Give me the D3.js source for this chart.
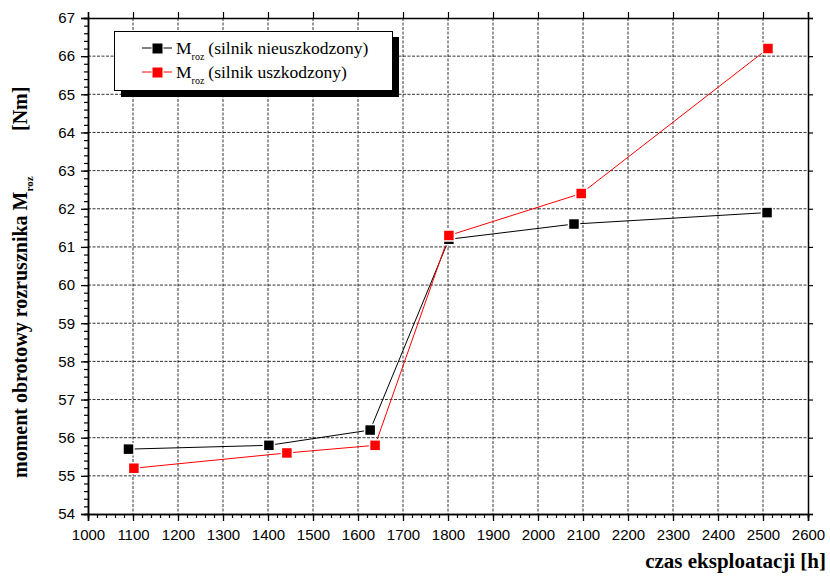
<!DOCTYPE html>
<html><head><meta charset="utf-8">
<script src="https://cdn.jsdelivr.net/npm/d3@7"></script>
<style>body{margin:0;background:#fff;}svg{display:block;}
.serif{font-family:'Liberation Serif','Times New Roman',serif;}
.sans{font-family:'Liberation Sans',Arial,sans-serif;}
</style>
</head><body>
<svg id="c" width="830" height="576"></svg>
<script>
const xTicks = [1000,1100,1200,1300,1400,1500,1600,1700,1800,1900,2000,2100,2200,2300,2400,2500,2600];
const yTicks = [54,55,56,57,58,59,60,61,62,63,64,65,66,67];
const xHealthy = [1090,1402,1627,1802,2080,2509];
const yHealthy = [55.7,55.8,56.2,61.2,61.6,61.9];
const xDamaged = [1102,1442,1638,1802,2096,2511];
const yDamaged = [55.2,55.6,55.8,61.3,62.4,66.2];
const seriesNames = ["(silnik nieuszkodzony)","(silnik uszkodzony)"];
const colors = ["#000000","#ff0000"];

const svg = d3.select("#c");
const L=88,R=808,T=18,B=514;
const x = d3.scaleLinear().domain([1000,2600]).range([L,R]);
const y = d3.scaleLinear().domain([54,67]).range([B,T]);

// grid
const g = svg.append("g");
g.selectAll(".vg").data(xTicks.slice(1,-1)).enter().append("line")
 .attr("x1",d=>x(d)).attr("x2",d=>x(d)).attr("y1",T).attr("y2",B)
 .attr("stroke","#000").attr("stroke-width",0.8).attr("stroke-dasharray","3,1.5");
g.selectAll(".hg").data(yTicks.slice(1,-1)).enter().append("line")
 .attr("y1",d=>y(d)).attr("y2",d=>y(d)).attr("x1",L).attr("x2",R)
 .attr("stroke","#000").attr("stroke-width",0.8).attr("stroke-dasharray","3,1.5");

// axes
const minorX = d3.range(1000,2601,20);
const minorY = d3.range(54,67.001,0.2);
const fmt = d3.format("d");
function axisGroup(axis, tr){ const a=svg.append("g").attr("transform",tr).call(axis); a.select(".domain").attr("stroke-width",1.5); return a;}
const bx = axisGroup(d3.axisBottom(x).tickValues(xTicks).tickSize(7).tickPadding(8).tickFormat(fmt), `translate(0,${B})`);
bx.attr("font-family",null).attr("font-size",null);
bx.selectAll("text").attr("class","sans").attr("font-size",15).attr("fill","#000");
bx.selectAll(".tick line").attr("stroke-width",1.3);
axisGroup(d3.axisBottom(x).tickValues(minorX).tickSize(4).tickFormat(""), `translate(0,${B})`).selectAll(".tick line").attr("stroke-width",1.2);
const tx = axisGroup(d3.axisTop(x).tickValues(xTicks).tickSize(6).tickFormat(""), `translate(0,${T})`);
tx.selectAll(".tick line").attr("stroke-width",1.2);
const ly = axisGroup(d3.axisLeft(y).tickValues(yTicks).tickSize(7).tickPadding(6).tickFormat(fmt), `translate(${L},0)`);
ly.attr("font-family",null).attr("font-size",null);
ly.selectAll("text").attr("class","sans").attr("font-size",15).attr("fill","#000");
ly.selectAll(".tick line").attr("stroke-width",1.3);
axisGroup(d3.axisLeft(y).tickValues(minorY).tickSize(4).tickFormat(""), `translate(${L},0)`).selectAll(".tick line").attr("stroke-width",1.2);
const ry = axisGroup(d3.axisRight(y).tickValues(yTicks).tickSize(5).tickFormat(""), `translate(${R},0)`);
ry.selectAll(".tick line").attr("stroke-width",1.2);

// series
const series = [
 {xs:xHealthy, ys:yHealthy, c:colors[0]},
 {xs:xDamaged, ys:yDamaged, c:colors[1]}
];
const line = d3.line().x(d=>x(d[0])).y(d=>y(d[1]));
series.forEach(s=>{
  const pts = s.xs.map((v,i)=>[v,s.ys[i]]);
  svg.append("path").datum(pts).attr("d",line).attr("fill","none").attr("stroke",s.c).attr("stroke-width",1);
});
series.forEach(s=>{
  const pts = s.xs.map((v,i)=>[v,s.ys[i]]);
  svg.selectAll(null).data(pts).enter().append("rect")
   .attr("x",d=>x(d[0])-5.5).attr("y",d=>y(d[1])-5.5).attr("width",11).attr("height",11)
   .attr("fill",s.c).attr("stroke","#fff").attr("stroke-width",1.5);
});

// legend
const lg = svg.append("g");
lg.append("rect").attr("x",121).attr("y",37).attr("width",278).attr("height",60).attr("fill","#000");
lg.append("rect").attr("x",114.5).attr("y",31.5).attr("width",278).attr("height",59).attr("fill","#fff").attr("stroke","#000").attr("stroke-width",1);
seriesNames.forEach((n,i)=>{
  const yy = 48 + i*24;
  lg.append("line").attr("x1",142).attr("x2",172).attr("y1",yy).attr("y2",yy).attr("stroke",colors[i]).attr("stroke-width",1);
  lg.append("rect").attr("x",152).attr("y",yy-5).attr("width",11).attr("height",11).attr("fill",colors[i]).attr("stroke","#fff").attr("stroke-width",1);
  const t = lg.append("text").attr("class","serif").attr("x",176).attr("y",yy+6).attr("font-size",17.5).attr("fill","#000");
  t.append("tspan").text("M");
  t.append("tspan").attr("font-size",10).attr("dy",6).text("roz");
  t.append("tspan").attr("dy",-6).attr("dx",4).text(n);
});

// axis titles
svg.append("text").attr("class","serif").attr("x",826).attr("y",568).attr("text-anchor","end")
 .attr("font-weight","bold").attr("font-size",21).text("czas eksploatacji [h]");
const yt = svg.append("text").attr("class","serif").attr("transform","translate(27,478) rotate(-90)")
 .attr("font-weight","bold").attr("font-size",20);
yt.append("tspan").text("moment obrotowy rozrusznika M");
yt.append("tspan").attr("font-size",11).attr("dy",6).text("roz");
svg.append("text").attr("class","serif").attr("transform","translate(27,131) rotate(-90)")
 .attr("font-weight","bold").attr("font-size",20).text("[Nm]");
</script>
</body></html>
